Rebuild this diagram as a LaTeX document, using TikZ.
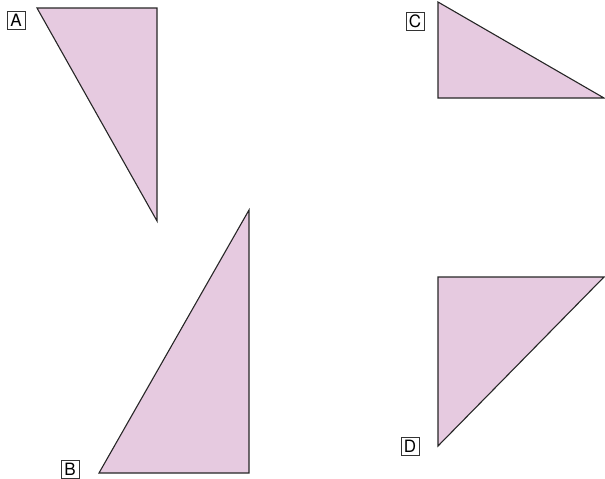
\documentclass[tikz,border=0pt]{standalone}
\usepackage{fontspec}
\setmainfont{TeX Gyre Heros}
\definecolor{tri}{RGB}{230,202,224}
\begin{document}
\begin{tikzpicture}[x=1pt,y=-1pt,
  trifill/.style={fill=tri,draw=black!85,line width=1.1pt,line join=miter},
  lbl/.style={draw=black!80,line width=0.8pt,inner sep=1.5pt,minimum width=18pt,minimum height=18pt,font=\fontsize{17}{17}\selectfont}]
\useasboundingbox (0,0) rectangle (605,479);
% A
\coordinate (a1) at (37,8);
\coordinate (a2) at (157,8);
\coordinate (a3) at (157,221);
\filldraw[trifill] (a1) -- (a2) -- (a3) -- cycle;
\node[lbl] (la) at (16,20) {A};
% B
\coordinate (b1) at (99,473);
\coordinate (b2) at (249,473);
\coordinate (b3) at (249,210);
\filldraw[trifill] (b1) -- (b2) -- (b3) -- cycle;
\node[lbl] (lb) at (70,469) {B};
% C
\coordinate (c1) at (438,2);
\coordinate (c2) at (438,98);
\coordinate (c3) at (604,98);
\filldraw[trifill] (c1) -- (c2) -- (c3) -- cycle;
\node[lbl] (lc) at (415,21) {C};
% D
\coordinate (d1) at (438,277);
\coordinate (d2) at (604,277);
\coordinate (d3) at (438,446);
\filldraw[trifill] (d1) -- (d2) -- (d3) -- cycle;
\node[lbl] (ld) at (410,446) {D};
\end{tikzpicture}
\end{document}
